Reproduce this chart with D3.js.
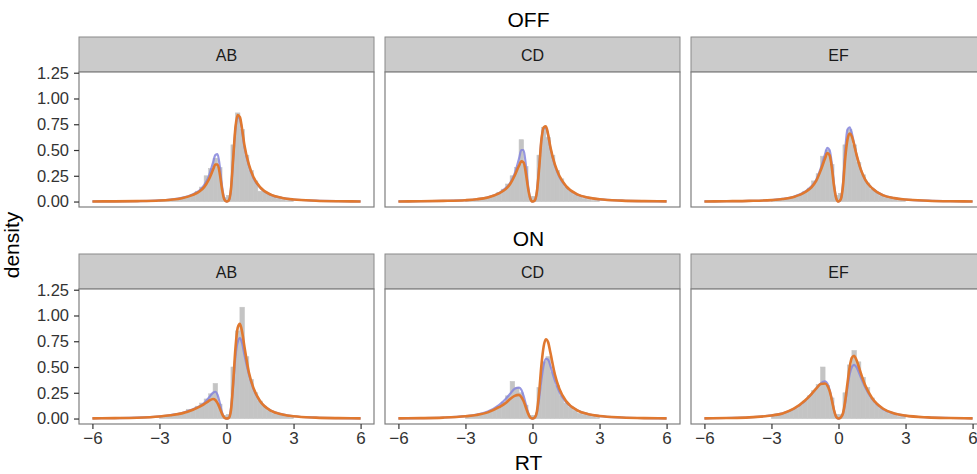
<!DOCTYPE html>
<html><head><meta charset="utf-8">
<script src="https://cdn.jsdelivr.net/npm/d3@7/dist/d3.min.js"></script>
<style>body{margin:0;background:#fff}svg{display:block}text{font-family:"Liberation Sans",Arial,Helvetica,sans-serif}</style>
</head><body><svg id="c" width="977" height="474"></svg>
<script>
// ---- data ----
const groups = ["OFF", "ON"];
const conditions = ["AB", "CD", "EF"];
const xTicks = [-6, -3, 0, 3, 6];
const yTicks = [0, 0.25, 0.5, 0.75, 1, 1.25];
const curveX = [-6,-5,-4,-3,-2.5,-2,-1.5,-1.2,-1,-0.8,-0.6,-0.5,-0.4,-0.3,-0.2,-0.1,0,0.1,0.2,0.3,0.4,0.5,0.6,0.7,0.8,1,1.2,1.5,2,2.5,3,4,5,6];
const binCenters = [-2.9,-2.7,-2.5,-2.3,-2.1,-1.9,-1.7,-1.5,-1.3,-1.1,-0.9,-0.7,-0.5,-0.3,-0.1,0.1,0.3,0.5,0.7,0.9,1.1,1.3,1.5,1.7,1.9,2.1,2.3,2.5,2.7,2.9];
const binWidth = 0.2;

const offAB_hist = [0.01,0.01,0.02,0.02,0.03,0.04,0.05,0.07,0.1,0.14,0.25,0.32,0.42,0.33,0.04,0.06,0.55,0.86,0.7,0.45,0.3,0.2,0.1,0.1,0.07,0.05,0.03,0.02,0.01,0.01];
const offAB_blue = [0.001,0.002,0.004,0.011,0.02,0.036,0.072,0.11,0.16,0.24,0.38,0.45,0.46,0.34,0.15,0.03,0,0.01,0.12,0.42,0.7,0.82,0.8,0.68,0.53,0.35,0.23,0.135,0.063,0.034,0.02,0.008,0.003,0.001];
const offAB_orange = [0.001,0.002,0.004,0.01,0.018,0.032,0.065,0.1,0.14,0.21,0.31,0.36,0.36,0.27,0.12,0.02,0,0.01,0.12,0.42,0.72,0.84,0.82,0.7,0.55,0.36,0.24,0.14,0.065,0.035,0.02,0.008,0.003,0.001];

const offCD_hist = [0.01,0.02,0.02,0.03,0.04,0.05,0.06,0.09,0.12,0.17,0.25,0.33,0.6,0.34,0.05,0.05,0.45,0.72,0.62,0.45,0.3,0.22,0.14,0.1,0.07,0.05,0.03,0.02,0.01,0.01];
const offCD_blue = [0.001,0.003,0.006,0.013,0.022,0.041,0.082,0.13,0.18,0.27,0.42,0.5,0.5,0.36,0.16,0.03,0,0.01,0.1,0.35,0.6,0.71,0.72,0.64,0.52,0.35,0.24,0.145,0.068,0.037,0.021,0.009,0.004,0.002];
const offCD_orange = [0.001,0.003,0.006,0.013,0.022,0.04,0.08,0.12,0.17,0.25,0.35,0.39,0.38,0.28,0.13,0.03,0,0.01,0.1,0.33,0.6,0.72,0.73,0.65,0.53,0.36,0.25,0.15,0.07,0.038,0.022,0.009,0.004,0.002];

const offEF_hist = [0.01,0.02,0.02,0.03,0.04,0.05,0.07,0.1,0.13,0.2,0.27,0.44,0.5,0.36,0.06,0.08,0.55,0.7,0.55,0.38,0.26,0.18,0.12,0.09,0.06,0.04,0.03,0.02,0.01,0.01];
const offEF_blue = [0.001,0.003,0.006,0.014,0.025,0.047,0.095,0.15,0.21,0.32,0.46,0.52,0.5,0.37,0.17,0.03,0,0.02,0.18,0.5,0.7,0.72,0.66,0.56,0.46,0.31,0.21,0.13,0.06,0.033,0.019,0.008,0.003,0.001];
const offEF_orange = [0.001,0.003,0.006,0.014,0.024,0.045,0.09,0.14,0.2,0.3,0.42,0.47,0.45,0.33,0.15,0.03,0,0.02,0.15,0.42,0.6,0.66,0.63,0.55,0.46,0.31,0.21,0.13,0.06,0.033,0.019,0.008,0.003,0.001];

const onAB_hist = [0.02,0.02,0.03,0.03,0.04,0.05,0.09,0.08,0.12,0.15,0.19,0.24,0.34,0.14,0.03,0.04,0.5,0.85,1.08,0.6,0.38,0.25,0.17,0.12,0.08,0.05,0.04,0.03,0.02,0.01];
const onAB_blue = [0.002,0.004,0.008,0.021,0.034,0.054,0.09,0.12,0.15,0.2,0.25,0.26,0.23,0.15,0.06,0.01,0,0.005,0.1,0.33,0.6,0.74,0.78,0.73,0.62,0.43,0.29,0.17,0.075,0.04,0.022,0.009,0.004,0.002];
const onAB_orange = [0.002,0.004,0.008,0.02,0.032,0.05,0.085,0.115,0.14,0.17,0.19,0.18,0.15,0.1,0.045,0.01,0,0.005,0.08,0.35,0.68,0.88,0.92,0.84,0.7,0.45,0.3,0.17,0.075,0.04,0.022,0.009,0.004,0.002];

const onCD_hist = [0.02,0.02,0.03,0.04,0.05,0.07,0.09,0.12,0.16,0.22,0.36,0.3,0.25,0.13,0.03,0.03,0.3,0.55,0.6,0.45,0.32,0.22,0.15,0.11,0.08,0.05,0.04,0.03,0.02,0.01];
const onCD_blue = [0.002,0.004,0.009,0.023,0.038,0.068,0.13,0.19,0.24,0.29,0.3,0.28,0.22,0.14,0.06,0.01,0,0.01,0.06,0.2,0.38,0.52,0.58,0.57,0.51,0.37,0.26,0.16,0.08,0.042,0.024,0.01,0.004,0.002];
const onCD_orange = [0.002,0.004,0.009,0.022,0.035,0.06,0.11,0.15,0.19,0.22,0.23,0.21,0.17,0.11,0.05,0.01,0,0.01,0.07,0.26,0.52,0.7,0.77,0.74,0.64,0.43,0.29,0.17,0.08,0.042,0.024,0.01,0.004,0.002];

const onEF_hist = [0.02,0.03,0.04,0.06,0.08,0.1,0.13,0.17,0.22,0.27,0.33,0.5,0.32,0.2,0.04,0.04,0.25,0.52,0.66,0.55,0.4,0.3,0.2,0.14,0.1,0.07,0.05,0.04,0.02,0.02];
const onEF_blue = [0.002,0.005,0.011,0.03,0.05,0.094,0.17,0.24,0.29,0.34,0.36,0.34,0.28,0.19,0.08,0.015,0,0.01,0.05,0.15,0.3,0.43,0.5,0.52,0.5,0.4,0.3,0.19,0.09,0.048,0.027,0.011,0.005,0.002];
const onEF_orange = [0.002,0.005,0.011,0.03,0.05,0.095,0.175,0.24,0.29,0.335,0.34,0.32,0.27,0.18,0.08,0.015,0,0.01,0.05,0.17,0.34,0.5,0.59,0.61,0.57,0.44,0.32,0.2,0.095,0.05,0.028,0.011,0.005,0.002];

const panels = [
  {g:0,c:0,hist:offAB_hist,blue:offAB_blue,orange:offAB_orange},
  {g:0,c:1,hist:offCD_hist,blue:offCD_blue,orange:offCD_orange},
  {g:0,c:2,hist:offEF_hist,blue:offEF_blue,orange:offEF_orange},
  {g:1,c:0,hist:onAB_hist,blue:onAB_blue,orange:onAB_orange},
  {g:1,c:1,hist:onCD_hist,blue:onCD_blue,orange:onCD_orange},
  {g:1,c:2,hist:onEF_hist,blue:onEF_blue,orange:onEF_orange}
];

// ---- layout ----
const svg = d3.select("#c");
const colLeft = [79, 385, 691], panelW = 295;
const stripTop = [37, 254], stripH = 35, panelH = 135;
const titleY = [27, 246];
const x = d3.scaleLinear().domain([-6.6, 6.6]).range([0, panelW]);
const y = d3.scaleLinear().domain([-0.053, 1.257]).range([panelH, 0]);
const font = '"Liberation Sans",Arial,Helvetica,sans-serif';

const defs = svg.append("defs");
defs.append("clipPath").attr("id","pclip").append("rect").attr("width",panelW).attr("height",panelH);

groups.forEach((gname, gi) => {
  svg.append("text").attr("x", colLeft[1] + panelW/2 - 4).attr("y", titleY[gi])
    .attr("text-anchor","middle").attr("font-size", 21).attr("fill","#000").text(gname);
});

const line = d3.line().x(d => x(d[0])).y(d => y(d[1])).curve(d3.curveMonotoneX);

panels.forEach(p => {
  const left = colLeft[p.c];
  const sTop = stripTop[p.g];
  const pTop = sTop + stripH;
  // strip
  svg.append("rect").attr("x", left).attr("y", sTop).attr("width", panelW).attr("height", stripH)
    .attr("fill","#cbcbcb").attr("stroke","#8a8a8a").attr("stroke-width",1);
  svg.append("text").attr("x", left + panelW/2).attr("y", sTop + stripH/2 + 6)
    .attr("text-anchor","middle").attr("font-size", 16).attr("fill","#1a1a1a").text(conditions[p.c]);
  const g = svg.append("g").attr("transform", `translate(${left},${pTop})`);
  g.append("rect").attr("width", panelW).attr("height", panelH).attr("fill","#fff");
  const d = g.append("g").attr("clip-path","url(#pclip)");
  d.selectAll("rect.bar").data(binCenters.map((bc,i)=>[bc,p.hist[i]])).join("rect")
    .attr("class","bar")
    .attr("x", v => x(v[0]-binWidth/2)).attr("width", v => x(v[0]+binWidth/2)-x(v[0]-binWidth/2))
    .attr("y", v => y(v[1])).attr("height", v => y(0)-y(v[1]))
    .attr("fill","#c4c4c4").attr("stroke","#c4c4c4").attr("stroke-width",0.6);
  d.append("path").datum(curveX.map((xv,i)=>[xv,p.blue[i]])).attr("d", line)
    .attr("fill","none").attr("stroke","#8585dc").attr("stroke-opacity",0.85).attr("stroke-width",2.2);
  d.append("path").datum(curveX.map((xv,i)=>[xv,p.orange[i]])).attr("d", line)
    .attr("fill","none").attr("stroke","#e0782f").attr("stroke-width",2.6);
  g.append("rect").attr("width", panelW).attr("height", panelH)
    .attr("fill","none").attr("stroke","#7f7f7f").attr("stroke-width",1.2);
  if (p.c === 0) {
    const ax = g.append("g").call(d3.axisLeft(y).tickValues(yTicks).tickFormat(d3.format(".2f")).tickSize(5).tickPadding(5));
    ax.select(".domain").remove();
    ax.selectAll("line").attr("stroke","#333").attr("stroke-width",1.2);
    ax.selectAll("text").attr("font-size",16.5).attr("fill","#333").attr("font-family",font);
  }
  if (p.g === 1) {
    const ax = g.append("g").attr("transform",`translate(0,${panelH})`)
      .call(d3.axisBottom(x).tickValues(xTicks).tickFormat(d3.format("d")).tickSize(5).tickPadding(3));
    ax.select(".domain").remove();
    ax.selectAll("line").attr("stroke","#333").attr("stroke-width",1.2);
    ax.selectAll("text").attr("font-size",17).attr("fill","#333").attr("font-family",font);
  }
});

svg.append("text").attr("x", colLeft[1] + panelW/2 - 4).attr("y", 470)
  .attr("text-anchor","middle").attr("font-size",21).attr("fill","#000").text("RT");
svg.append("text").attr("transform","translate(19,245) rotate(-90)")
  .attr("text-anchor","middle").attr("font-size",21).attr("fill","#000").text("density");
</script></body></html>
